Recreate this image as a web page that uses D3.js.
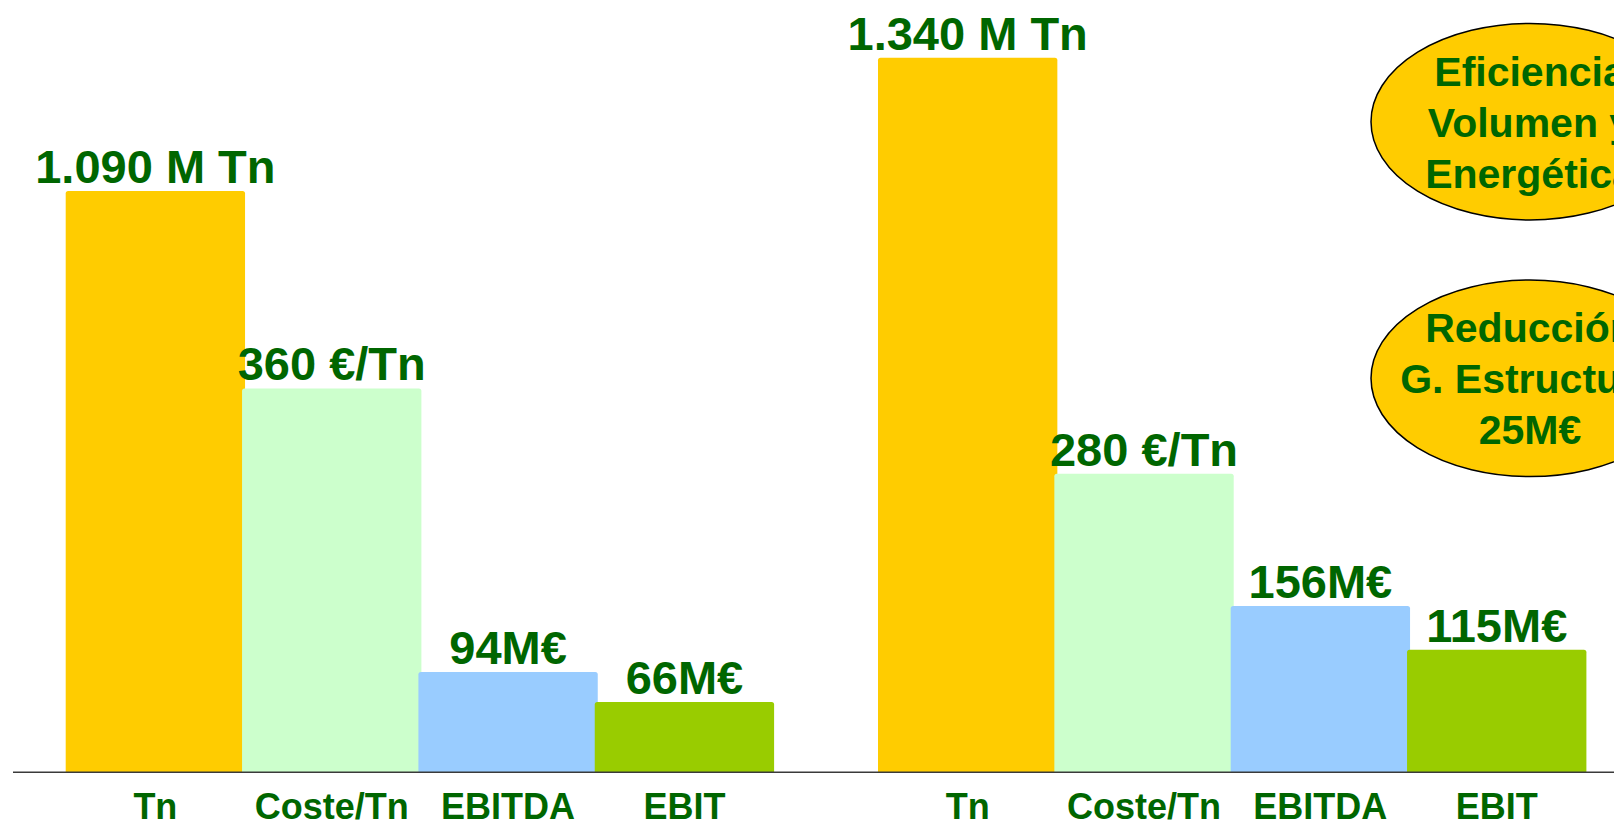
<!DOCTYPE html>
<html>
<head>
<meta charset="utf-8">
<script src="https://cdn.jsdelivr.net/npm/d3@7"></script>
<style>
  html, body { margin: 0; padding: 0; background: #ffffff; overflow: hidden; }
  svg { display: block; }
  text { font-family: "Liberation Sans", Arial, sans-serif; font-weight: bold; fill: #006600; }
</style>
</head>
<body>
<svg id="chart" width="1614" height="828"></svg>
<script>
// ---- data ----
const groups = ["G1", "G2"];
const categories = ["Tn", "Coste/Tn", "EBITDA", "EBIT"];
const valuesG1 = [1090, 360, 94, 66];
const valuesG2 = [1340, 280, 156, 115];
const labelsG1 = ["1.090 M Tn", "360 €/Tn", "94M€", "66M€"];
const labelsG2 = ["1.340 M Tn", "280 €/Tn", "156M€", "115M€"];
const barColors = ["#FFCC00", "#CCFFCC", "#99CCFF", "#99CC00"];
const bubble1Lines = ["Eficiencia", "Volumen y", "Energética"];
const bubble2Lines = ["Reducción", "G. Estructura", "25M€"];

// ---- layout ----
const W = 1614, H = 828;
const baseY = 772.3, topY = 25.8;
const svg = d3.select("#chart");

const x0 = d3.scaleBand().domain(groups).range([65.7, 1583.4]).paddingInner(0.1316).paddingOuter(0);
const x1 = d3.scaleBand().domain(categories).range([0, x0.bandwidth()]).padding(0);
const yTn = d3.scaleLinear().domain([0, 1400]).range([baseY, topY]);
const yVal = d3.scaleLinear().domain([0, 700]).range([baseY, topY]);
const color = d3.scaleOrdinal().domain(categories).range(barColors);

const rows = [];
[valuesG1, valuesG2].forEach((vals, gi) => {
  const labs = gi === 0 ? labelsG1 : labelsG2;
  vals.forEach((v, ci) => rows.push({ g: groups[gi], c: categories[ci], v, label: labs[ci] }));
});
const yOf = d => (d.c === "Tn" ? yTn(d.v) : yVal(d.v));

// bars (slight overlap, later bars on top)
const overlap = 3;
svg.append("g").selectAll("path").data(rows).join("path")
  .attr("fill", d => color(d.c))
  .attr("d", d => {
    const x = x0(d.g) + x1(d.c), w = x1.bandwidth() + overlap, y = yOf(d), r = 2.5;
    return `M${x},${baseY}V${y + r}Q${x},${y} ${x + r},${y}H${x + w - r}Q${x + w},${y} ${x + w},${y + r}V${baseY}Z`;
  });

// axis line
svg.append("line").attr("x1", 13).attr("x2", W).attr("y1", baseY).attr("y2", baseY)
  .attr("stroke", "#3a3a3a").attr("stroke-width", 1.5);

// value labels
svg.append("g").selectAll("text").data(rows).join("text")
  .attr("x", d => x0(d.g) + x1(d.c) + (x1.bandwidth() + overlap) / 2)
  .attr("y", d => yOf(d) - 8)
  .attr("text-anchor", "middle")
  .style("font-size", "47px")
  .text(d => d.label);

// category labels
const catRows = [];
groups.forEach(g => categories.forEach(c => catRows.push({ g, c })));
svg.append("g").selectAll("text").data(catRows).join("text")
  .attr("x", d => x0(d.g) + x1(d.c) + (x1.bandwidth() + overlap) / 2)
  .attr("y", 819)
  .attr("text-anchor", "middle")
  .style("font-size", "36px")
  .text(d => d.c);

// bubbles
const bubbles = [
  { cx: 1530, cy: 121.7, lines: bubble1Lines },
  { cx: 1530, cy: 378.3, lines: bubble2Lines }
];
const bg = svg.append("g").selectAll("g").data(bubbles).join("g");
bg.append("ellipse")
  .attr("cx", d => d.cx).attr("cy", d => d.cy).attr("rx", 159).attr("ry", 98.3)
  .attr("fill", "#FFCC00").attr("stroke", "#000").attr("stroke-width", 1.5);
bg.each(function (d) {
  d3.select(this).selectAll("text").data(d.lines).join("text")
    .attr("x", d.cx)
    .attr("y", (t, i) => d.cy + 15 + (i - 1) * 51)
    .attr("text-anchor", "middle")
    .style("font-size", "41px")
    .text(t => t);
});
</script>
</body>
</html>
